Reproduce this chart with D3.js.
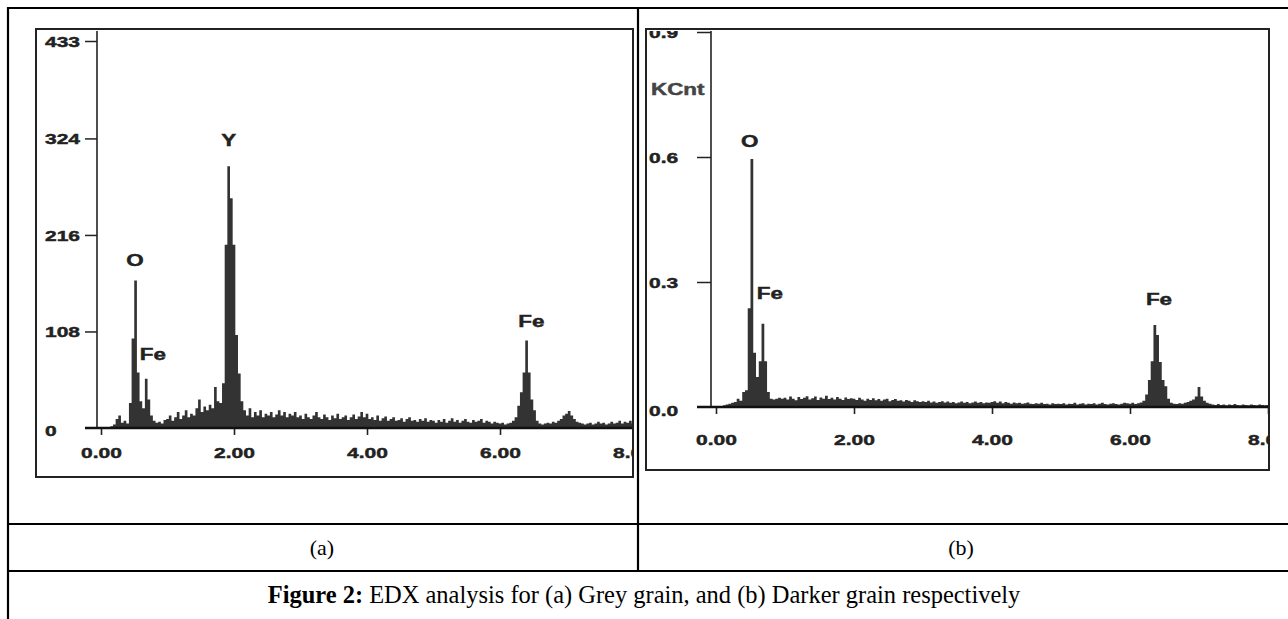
<!DOCTYPE html>
<html>
<head>
<meta charset="utf-8">
<script src="https://cdn.jsdelivr.net/npm/d3@7"></script>
<style>
  body { margin: 0; background: #fff; }
  svg { display: block; }
  .lbl { font-family: "Liberation Sans", Arial, sans-serif; font-weight: bold; fill: #222; stroke: #222; stroke-width: 0.45px; }
  .cap { font-family: "Liberation Serif", "DejaVu Serif", serif; fill: #000; }
</style>
</head>
<body>
<svg width="1288" height="619"></svg>
<script>
// spectra: one value per 0.04 keV channel, 0.00 .. 8.00 keV
const binStep = 0.04;

// (a) grey grain, counts
const greyCounts = [
  0, 0, 0, 0, 2, 4, 10, 14, 6, 8, 5, 28, 100, 165, 62, 30, 22, 55, 32, 14, 8, 6, 7, 5, 9,
  10, 14, 8, 12, 18, 10, 14, 20, 12, 16, 14, 22, 32, 18, 24, 20, 26, 22, 46, 30, 28, 50, 205, 293, 257,
  205, 104, 61, 30, 20, 14, 22, 12, 18, 14, 20, 12, 16, 14, 18, 12, 15, 20, 14, 18, 12, 16, 14, 18, 12,
  14, 10, 16, 12, 10, 14, 18, 12, 10, 15, 12, 9, 14, 11, 16, 10, 12, 14, 9, 12, 15, 10, 13, 18, 12,
  16, 10, 12, 9, 14, 8, 11, 13, 8, 10, 12, 8, 9, 11, 7, 10, 12, 8, 9, 7, 10, 8, 11, 7, 9,
  8, 6, 9, 7, 10, 6, 8, 11, 7, 9, 6, 8, 10, 7, 6, 9, 7, 8, 10, 6, 8, 7, 5, 7, 6,
  5, 6, 4, 5, 6, 8, 12, 25, 40, 62, 98, 62, 32, 20, 8, 5, 4, 5, 6, 5, 7, 6, 8, 10, 14,
  16, 19, 14, 10, 7, 6, 5, 4, 5, 6, 4, 5, 7, 5, 6, 4, 5, 7, 5, 6, 8, 5, 7, 6, 8,
  5
];

// (b) darker grain, KCnt
const darkCounts = [
  0, 0, 0, 0.004, 0.006, 0.008, 0.01, 0.012, 0.02, 0.015, 0.036, 0.04, 0.237, 0.595, 0.13, 0.072, 0.11, 0.2, 0.11, 0.036, 0.02, 0.018, 0.02, 0.022, 0.02,
  0.022, 0.018, 0.025, 0.02, 0.016, 0.024, 0.019, 0.022, 0.026, 0.018, 0.021, 0.025, 0.017, 0.023, 0.02, 0.027, 0.019, 0.022, 0.018, 0.024, 0.02, 0.017, 0.023, 0.019, 0.021,
  0.02, 0.017, 0.022, 0.018, 0.015, 0.02, 0.017, 0.021, 0.016, 0.019, 0.015, 0.018, 0.02, 0.014, 0.017, 0.019, 0.015, 0.016, 0.013, 0.017, 0.015, 0.012, 0.016, 0.014, 0.012,
  0.014, 0.012, 0.015, 0.011, 0.013, 0.01, 0.012, 0.014, 0.011, 0.013, 0.01, 0.012, 0.009, 0.011, 0.013, 0.01, 0.012, 0.009, 0.011, 0.013, 0.01, 0.012, 0.009, 0.011, 0.01,
  0.012, 0.014, 0.01, 0.013, 0.009, 0.012, 0.01, 0.008, 0.011, 0.009, 0.01, 0.008, 0.009, 0.011, 0.008, 0.007, 0.009, 0.008, 0.01, 0.007, 0.008, 0.006, 0.009, 0.007, 0.008,
  0.007, 0.009, 0.006, 0.008, 0.007, 0.01, 0.006, 0.008, 0.009, 0.006, 0.008, 0.007, 0.009, 0.006, 0.008, 0.01, 0.007, 0.006, 0.008, 0.009, 0.007, 0.006, 0.008, 0.01, 0.009,
  0.008, 0.01, 0.007, 0.009, 0.011, 0.015, 0.03, 0.065, 0.11, 0.197, 0.173, 0.108, 0.065, 0.05, 0.02, 0.01, 0.008, 0.007, 0.009, 0.008, 0.01, 0.012, 0.015, 0.018, 0.025,
  0.048, 0.025, 0.015, 0.01, 0.008, 0.006, 0.005, 0.007, 0.005, 0.006, 0.004, 0.006, 0.005, 0.007, 0.005, 0.004, 0.006, 0.005, 0.004, 0.006, 0.005, 0.004, 0.006, 0.005, 0.004,
  0.005
];

const energyTicks = [0, 2, 4, 6, 8];
const greyTicks = [0, 108, 216, 324, 433];
const darkTicks = [0, 0.3, 0.6, 0.9];

// peak annotations: element, energy (keV), label height in axis units
const greyPeakNames = ["O", "Fe", "Y", "Fe"];
const greyPeakEnergy = [0.51, 0.78, 1.92, 6.47];
const greyPeakLevel = [188, 82, 322, 119];
const darkPeakNames = ["O", "Fe", "Fe"];
const darkPeakEnergy = [0.49, 0.78, 6.42];
const darkPeakLevel = [0.638, 0.274, 0.259];

const panelLabels = ["(a)", "(b)"];

const svg = d3.select("svg");
const stretch = "scale(1.4,1)";

function drawPanel(p) {
  const g = svg.append("g");
  const clipId = "clip-" + p.id;
  g.append("clipPath").attr("id", clipId)
    .append("rect")
    .attr("x", p.box[0]).attr("y", p.box[1] + 2)
    .attr("width", p.box[2] - p.box[0]).attr("height", p.box[3] - p.box[1] - 2);

  const inner = g.append("g").attr("clip-path", `url(#${clipId})`);

  const x = d3.scaleLinear().domain([0, 8]).range(p.xRange);
  const y = d3.scaleLinear().domain([0, p.yMax]).range(p.yRange);

  const pts = p.counts.map((v, i) => ({ e: i * binStep, v }));
  const area = d3.area()
    .x(d => x(d.e))
    .y0(y(0))
    .y1(d => y(d.v))
    .curve(d3.curveStep);

  inner.append("path")
    .datum(pts)
    .attr("fill", "#333")
    .attr("d", area);

  // y axis
  const yAxis = d3.axisLeft(y).tickValues(p.yTicks).tickSize(p.tickLen).tickFormat(p.yFormat);
  const ya = inner.append("g").attr("transform", `translate(${p.axisX},0)`).call(yAxis);
  ya.select(".domain").remove();
  ya.selectAll(".tick line").attr("stroke", "#222").attr("stroke-width", 1.5);
  ya.selectAll(".tick").filter(d => d === 0).select("line").remove();
  ya.selectAll(".tick text")
    .attr("class", "lbl")
    .attr("font-size", 15)
    .attr("text-anchor", "start")
    .attr("x", null)
    .attr("dy", "0.36em")
    .attr("transform", `translate(${p.labelX - p.axisX},0) ${stretch}`);
  ya.selectAll(".tick").filter(d => d === 0).select("text")
    .attr("transform", `translate(${p.labelX - p.axisX},${p.zeroShift}) ${stretch}`);

  inner.append("line")
    .attr("x1", p.axisX).attr("x2", p.axisX)
    .attr("y1", p.box[1]).attr("y2", y(0))
    .attr("stroke", "#222").attr("stroke-width", 1.6);

  // x axis
  const xAxis = d3.axisBottom(x).tickValues(energyTicks).tickSize(7).tickFormat(d3.format(".2f"));
  const xa = inner.append("g").attr("transform", `translate(0,${y(0)})`).call(xAxis);
  xa.select(".domain").remove();
  xa.selectAll(".tick line").attr("stroke", "#222").attr("stroke-width", 1.6);
  xa.selectAll(".tick text")
    .attr("class", "lbl")
    .attr("font-size", 15)
    .attr("y", null).attr("dy", null)
    .attr("transform", `translate(0,${p.xLabelOffset}) ${stretch}`);

  inner.append("line")
    .attr("x1", p.axisX - p.tickLen).attr("x2", p.box[2])
    .attr("y1", y(0)).attr("y2", y(0))
    .attr("stroke", "#111").attr("stroke-width", 2.6);

  if (p.unit) {
    inner.append("text")
      .attr("class", "lbl")
      .attr("font-size", 16)
      .style("fill", "#444").style("stroke", "#444")
      .attr("transform", `translate(${p.labelX + 2},${p.unitY}) ${stretch}`)
      .attr("dy", "0.36em")
      .text(p.unit);
  }

  // peak labels
  p.peakNames.forEach((name, i) => {
    inner.append("text")
      .attr("class", "lbl")
      .attr("font-size", 16)
      .attr("text-anchor", "middle")
      .attr("dy", "0.36em")
      .attr("transform", `translate(${x(p.peakEnergy[i])},${y(p.peakLevel[i])}) ${stretch}`)
      .text(name);
  });

  g.append("rect")
    .attr("x", p.box[0]).attr("y", p.box[1])
    .attr("width", p.box[2] - p.box[0]).attr("height", p.box[3] - p.box[1])
    .attr("fill", "none").attr("stroke", "#222").attr("stroke-width", 2);
}

drawPanel({
  id: "a", box: [36, 29, 633, 477], counts: greyCounts,
  xRange: [101, 633], yRange: [428, 41], yMax: 433,
  yTicks: greyTicks, yFormat: d => d, axisX: 97, tickLen: 12, labelX: 45,
  zeroShift: 2, xLabelOffset: 30,
  peakNames: greyPeakNames, peakEnergy: greyPeakEnergy, peakLevel: greyPeakLevel
});

drawPanel({
  id: "b", box: [646, 29, 1269, 470], counts: darkCounts,
  xRange: [716, 1268], yRange: [407, 32], yMax: 0.9,
  yTicks: darkTicks, yFormat: d3.format(".1f"), axisX: 711, tickLen: 14, labelX: 649,
  zeroShift: 3, xLabelOffset: 38, unit: "KCnt", unitY: 89,
  peakNames: darkPeakNames, peakEnergy: darkPeakEnergy, peakLevel: darkPeakLevel
});

// table frame
const frame = svg.append("g").attr("stroke", "#000").attr("stroke-width", 2.2);
frame.append("line").attr("x1", 7).attr("x2", 1288).attr("y1", 8).attr("y2", 8);
frame.append("line").attr("x1", 8).attr("x2", 8).attr("y1", 7).attr("y2", 619);
frame.append("line").attr("x1", 638).attr("x2", 638).attr("y1", 7).attr("y2", 571);
frame.append("line").attr("x1", 7).attr("x2", 1288).attr("y1", 524).attr("y2", 524);
frame.append("line").attr("x1", 7).attr("x2", 1288).attr("y1", 571).attr("y2", 571);

const panelX = d3.scalePoint().domain(panelLabels).range([322, 961]);
svg.selectAll(".plab").data(panelLabels).join("text")
  .attr("class", "cap plab")
  .attr("font-size", 22)
  .attr("text-anchor", "middle")
  .attr("x", d => panelX(d))
  .attr("y", 555)
  .text(d => d);

const cap = svg.append("text")
  .attr("class", "cap")
  .attr("font-size", 23)
  .attr("text-anchor", "middle")
  .attr("x", 644)
  .attr("y", 603);
cap.append("tspan").attr("font-weight", "bold").text("Figure 2:");
cap.append("tspan").text(" EDX analysis for (a) Grey grain, and (b) Darker grain respectively");
const w = cap.node().getComputedTextLength();
cap.attr("font-size", 23 * 753 / w);
</script>
</body>
</html>
